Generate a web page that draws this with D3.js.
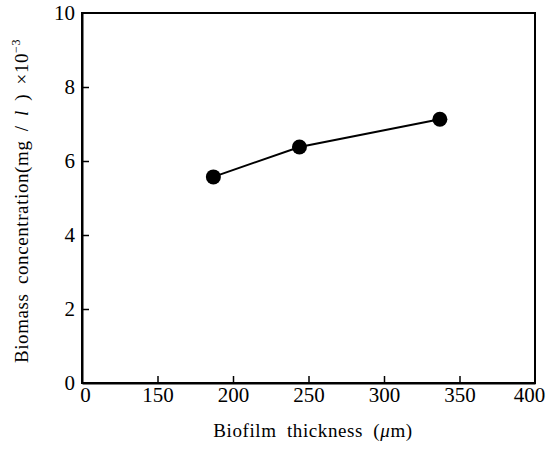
<!DOCTYPE html>
<html>
<head>
<meta charset="utf-8">
<script src="https://cdn.jsdelivr.net/npm/d3@7"></script>
<style>
  body { margin: 0; background: white; }
  text { font-family: "Liberation Serif", "DejaVu Serif", serif; }
</style>
</head>
<body>
<div id="chart"></div>
<script>
/* CONSTANTS AND GLOBALS */
const width = 547;
const height = 451;
const margin = { top: 13, right: 12, bottom: 68, left: 82 };

/* DATA */
const thickness = [187, 244, 337];          // biofilm thickness, um
const biomass = [5.57, 6.38, 7.13];         // mg/l x 10^-3
const xTicks = [0, 150, 200, 250, 300, 350, 400];
const yTicks = [0, 2, 4, 6, 8, 10];

const data = thickness.map((t, i) => ({ x: t, y: biomass[i] }));

/* SCALES */
// broken axis: 0 sits one step left of 150
const xScale = d3.scaleLinear()
  .domain([0, 150, 400])
  .range([margin.left, margin.left + 75.5, width - margin.right]);

const yScale = d3.scaleLinear()
  .domain([0, 10])
  .range([height - margin.bottom, margin.top]);

/* HTML ELEMENTS */
const svg = d3.select("#chart")
  .append("svg")
  .attr("width", width)
  .attr("height", height)
  .style("background-color", "white");

// frame
svg.append("rect")
  .attr("x", margin.left)
  .attr("y", margin.top)
  .attr("width", width - margin.left - margin.right)
  .attr("height", height - margin.top - margin.bottom)
  .attr("fill", "none")
  .attr("stroke", "black")
  .attr("stroke-width", 2);

const xAxis = svg.append("g")
  .attr("transform", `translate(0,${height - margin.bottom})`)
  .call(d3.axisBottom(xScale)
    .tickValues(xTicks)
    .tickSizeInner(-7)
    .tickSizeOuter(0)
    .tickPadding(4));

const yAxis = svg.append("g")
  .attr("transform", `translate(${margin.left},0)`)
  .call(d3.axisLeft(yScale)
    .tickValues(yTicks)
    .tickSizeInner(-7)
    .tickSizeOuter(0)
    .tickPadding(7));

[xAxis, yAxis].forEach(g => {
  g.select(".domain").attr("stroke-width", 2);
  g.selectAll(".tick line").attr("stroke-width", 1.5);
  g.selectAll(".tick text")
    .attr("font-family", "Liberation Serif")
    .attr("font-size", 21)
    .attr("fill", "black");
});
// first and last labels sit at the frame corners
xAxis.selectAll(".tick line").filter(d => d === 0 || d === 400).remove();
yAxis.selectAll(".tick line").filter(d => d === 0 || d === 10).remove();
xAxis.selectAll(".tick text").filter(d => d === 0).attr("dx", 3);
xAxis.selectAll(".tick text").filter(d => d === 400).attr("dx", -6);

// line + markers
svg.append("path")
  .datum(data)
  .attr("fill", "none")
  .attr("stroke", "black")
  .attr("stroke-width", 2)
  .attr("d", d3.line().x(d => xScale(d.x)).y(d => yScale(d.y)));

svg.append("g")
  .selectAll("circle")
  .data(data)
  .join("circle")
  .attr("cx", d => xScale(d.x))
  .attr("cy", d => yScale(d.y))
  .attr("r", 7.5)
  .attr("fill", "black");

// axis titles
svg.append("text")
  .attr("x", 313)
  .attr("y", 437)
  .attr("text-anchor", "middle")
  .attr("font-size", 19)
  .attr("letter-spacing", 0.6)
  .attr("word-spacing", 5)
  .text("Biofilm thickness (")
  .call(t => t.append("tspan").attr("font-style", "italic").text("μ"))
  .call(t => t.append("tspan").text("m)"));

const yl = svg.append("text")
  .attr("transform", "translate(28,201) rotate(-90)")
  .attr("text-anchor", "middle")
  .attr("font-size", 19)
  .attr("letter-spacing", 0.6)
  .attr("word-spacing", 4);
yl.append("tspan").text("Biomass concentration(mg / ");
yl.append("tspan").attr("font-style", "italic").text("l");
yl.append("tspan").text(" ) ×10");
yl.append("tspan").attr("font-size", 12).attr("dy", -8).text("−3");
</script>
</body>
</html>
